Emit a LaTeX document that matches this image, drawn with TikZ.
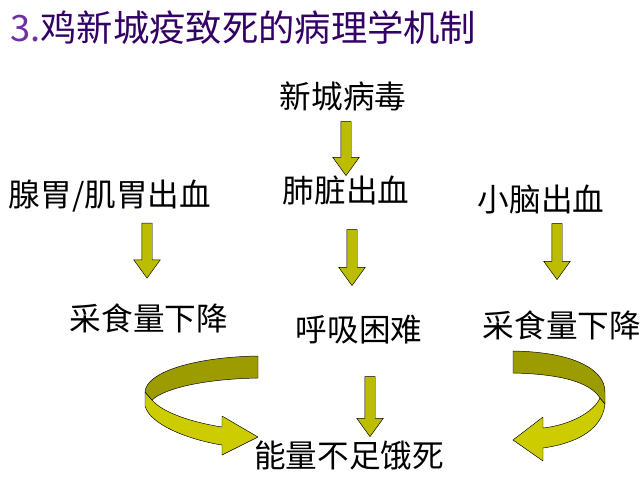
\documentclass[tikz,border=0pt]{standalone}
\usepackage{fontspec}
\newfontfamily\cjk{Noto Sans CJK SC}
\usetikzlibrary{calc, positioning, shapes.arrows}
\definecolor{titlenum}{HTML}{7030A0}
\definecolor{titletxt}{HTML}{330066}
\definecolor{olivedark}{HTML}{9C9C00}
\definecolor{olivelight}{HTML}{CCCC00}

\begin{document}
\begin{tikzpicture}
			[x=0.03cm, y=-0.03cm,
			 lbl/.style={font=\cjk\fontsize{27}{30}\selectfont, inner sep=2pt},
			 fatarrow/.style={single arrow, draw=black, thin, fill=olivelight!92!black, rotate=-90,
			   minimum width=0.78cm, single arrow head extend=0.24cm, single arrow tip angle=72,
			   inner xsep=0pt, inner ysep=0.15cm},
			 band/.style={draw=black, thin, line join=round}]
			% canvas %
			\useasboundingbox[fill=white] (0,0) rectangle (641,496);
			% title %
			\node[anchor=west, inner sep=0pt, font=\cjk\fontsize{31}{34}\selectfont] (title) at (10,28)
			  {\textcolor{titlenum}{3.}\textcolor{titletxt}{鸡新城疫致死的病理学机制}};
 
			% nodes %
			\node[lbl] (virus) at (343,96) {新城病毒};
			\node[lbl] (gland) at (110,196) {腺胃/肌胃出血};
			\node[lbl] (lung) at (346,190) {肺脏出血};
			\node[lbl] (cereb) at (541,200) {小脑出血};
			\node[lbl] (feedL) at (149,318) {采食量下降};
			\node[lbl] (breath) at (359,330) {呼吸困难};
			\node[lbl] (feedR) at (562,325) {采食量下降};
			\node[lbl] (death) at (349,455) {能量不足饿死};
 
			% edges %
			\node[fatarrow, minimum height=1.62cm] (a1) at (346,145) {};
			\node[fatarrow, minimum height=1.65cm] (a2) at (147,247) {};
			\node[fatarrow, minimum height=1.68cm] (a3) at (352,254) {};
			\node[fatarrow, minimum height=1.68cm] (a4) at (557,248) {};
			\node[fatarrow, minimum height=1.80cm] (a5) at (370,403) {};
 
			% curved arrows %
			\filldraw[band, fill=olivelight] (145,392) -- (145,406) .. controls (150,425) and (190,440) .. (222,445)
			  -- (222,455) -- (258,437) -- (222,416) -- (222,427) .. controls (190,422) and (162,412) .. (152,400) -- cycle;
			\filldraw[band, fill=olivedark] (258,356) .. controls (195,357) and (146,372) .. (145,392)
			  -- (152,400) .. controls (165,388) and (205,379) .. (258,378) -- cycle;
			\filldraw[band, fill=olivelight] (605,404) .. controls (602,432) and (572,444) .. (543,448)
			  -- (543,461) -- (513,440) -- (543,417) -- (543,428) .. controls (570,425) and (594,412) .. (600,398) -- cycle;
			\filldraw[band, fill=olivedark] (513,351) .. controls (575,352) and (605,370) .. (605,392)
			  -- (605,404) -- (600,398) .. controls (590,382) and (560,374) .. (513,373) -- cycle;
			\end{tikzpicture}
\end{document}
